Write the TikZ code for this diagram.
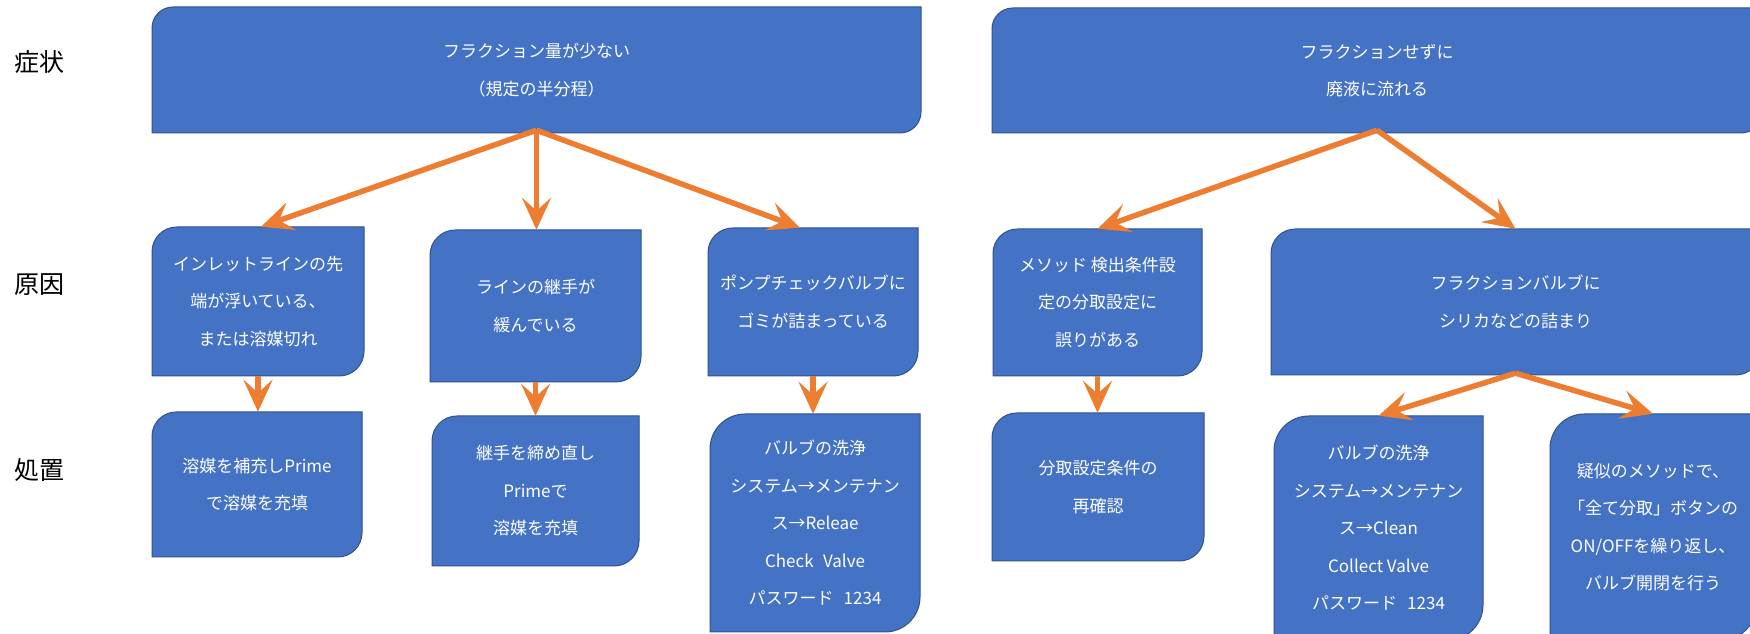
\documentclass[tikz,border=0pt]{standalone}
\usepackage{fontspec}
\newfontfamily\cjk{Noto Sans CJK JP}
\usetikzlibrary{arrows.meta}
\definecolor{boxblue}{HTML}{4472C4}
\definecolor{boxline}{HTML}{2F528F}
\definecolor{arrorange}{HTML}{ED7D31}
\tikzset{
  boxshape/.style={fill=boxblue, draw=boxline, line width=1pt},
  boxtext/.style={draw=none, inner sep=0pt, align=center, text=white,
    font=\cjk\fontsize{17}{37.5}\selectfont},
  rowlabel/.style={inner sep=0pt, text=black, font=\cjk\fontsize{25}{30}\selectfont},
  arr/.style={draw=arrorange, line width=5.5pt,
    -{Stealth[length=32pt,width=29pt,inset=13pt]}},
}
% name, x1, y1, x2, y2 (pixel coords, y downward), text
\newcommand\cornerbox[6]{%
  \pgfmathsetmacro\cbXa{#2}\pgfmathsetmacro\cbYa{634-#3}%
  \pgfmathsetmacro\cbXb{#4}\pgfmathsetmacro\cbYb{634-#5}%
  \pgfmathsetmacro\cbR{0.1667*min(#4-#2,#5-#3)}%
  \pgfmathsetmacro\cbW{#4-#2}\pgfmathsetmacro\cbH{#5-#3}%
  \path[boxshape] (\cbXa,\cbYb) -- (\cbXa,\cbYa-\cbR)
    arc[start angle=180,end angle=90,radius=\cbR]
    -- (\cbXb,\cbYa) -- (\cbXb,\cbYb+\cbR)
    arc[start angle=0,end angle=-90,radius=\cbR] -- cycle;
  \node[boxtext, minimum width=\cbW pt, minimum height=\cbH pt]
    (#1) at ({(\cbXa+\cbXb)/2},{(\cbYa+\cbYb)/2}) {#6};%
}
\begin{document}
\begin{tikzpicture}[x=1pt,y=1pt]
\useasboundingbox (0,0) rectangle (1750,634);
\clip (0,0) rectangle (1750,634);
\fill[white] (0,0) rectangle (1750,634);

% row labels
\node[rowlabel] (l1) at (39,572) {症状};
\node[rowlabel] (l2) at (39,349) {原因};
\node[rowlabel] (l3) at (39,164) {処置};

% symptoms
\cornerbox{A}{152}{7}{921}{133}{フラクション量が少ない\\（規定の半分程）}
\cornerbox{B}{992}{8}{1762}{133}{フラクションせずに\\廃液に流れる}

% causes
\cornerbox{C1}{152}{227}{364}{376}{インレットラインの先\\端が浮いている、\\または溶媒切れ}
\cornerbox{C2}{430}{230}{641}{382}{ラインの継手が\\緩んでいる}
\cornerbox{C3}{708}{228}{918}{376}{ポンプチェックバルブに\\ゴミが詰まっている}
\cornerbox{C4}{993}{229}{1202}{376}{メソッド 検出条件設\\定の分取設定に\\誤りがある}
\cornerbox{C5}{1271}{229}{1760}{375}{フラクションバルブに\\シリカなどの詰まり}

% remedies
\cornerbox{D1}{152}{412}{362}{557}{溶媒を補充しPrime\\で溶媒を充填}
\cornerbox{D2}{432}{416}{639}{566}{継手を締め直し\\Primeで\\溶媒を充填}
\cornerbox{D3}{710}{414}{920}{632}{バルブの洗浄\\システム→メンテナン\\ス→Releae\\Check\hspace{0.55em}Valve\\パスワード\hspace{0.6em}1234}
\cornerbox{D4}{992}{413}{1204}{561}{分取設定条件の\\再確認}
\cornerbox{D5}{1274}{416}{1483}{640}{バルブの洗浄\\システム→メンテナン\\ス→Clean\\Collect Valve\\パスワード\hspace{0.6em}1234}
\cornerbox{D6}{1550}{414}{1756}{640}{疑似のメソッドで、\\「全て分取」ボタンの\\ON/OFFを繰り返し、\\バルブ開閉を行う}

% connectors
\draw[arr] ([yshift=3pt]A.south) -- ([xshift=3pt]C1.north);
\draw[arr] ([yshift=3pt]A.south) -- (A.south |- C2.north);
\draw[arr] ([yshift=3pt]A.south) -- ([xshift=-13pt]C3.north);
\draw[arr] ([yshift=3pt]B.south) -- (C4.north);
\draw[arr] ([yshift=3pt]B.south) -- (C5.north);
\draw[arr] (C1.south) -- (C1.south |- D1.north);
\draw[arr] (C2.south) -- (C2.south |- D2.north);
\draw[arr] (C3.south) -- (C3.south |- D3.north);
\draw[arr] (C4.south) -- (C4.south |- D4.north);
\draw[arr] ([yshift=2pt]C5.south) -- (D5.north);
\draw[arr] ([yshift=2pt]C5.south) -- (D6.north);
\end{tikzpicture}
\end{document}
